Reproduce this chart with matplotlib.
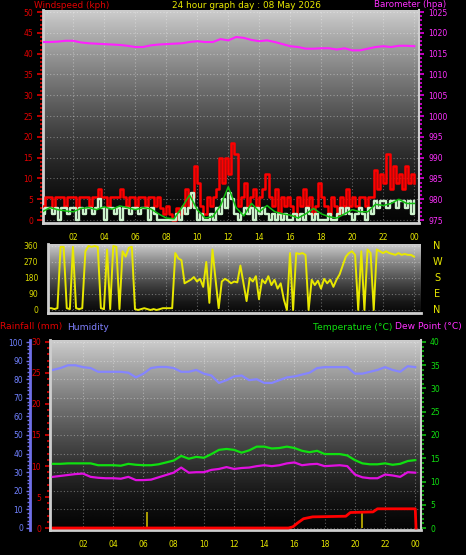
import numpy as np
import matplotlib
matplotlib.use('Agg')
from matplotlib import pyplot as plt
from matplotlib.ticker import MultipleLocator
import matplotlib.transforms as mtransforms

# hour axis
hour_ticks = [2, 4, 6, 8, 10, 12, 14, 16, 18, 20, 22, 24]
hour_labels = ['02', '04', '06', '08', '10', '12', '14', '16', '18', '20', '22', '00']

# wind gust / speed, one reading every 12 minutes (kph)
gust = [3.5,
        5.5, 5.5, 3, 5.5, 5.5, 5.5, 3.5, 5.5, 5.5, 5.5,
        3, 5.5, 5.5, 5.5, 3.5, 5.5, 5.5, 7.5, 5.5, 5.5,
        3.5, 5.5, 5.5, 5.5, 7.5, 5.5, 3.5, 5.5, 5.5, 3.5,
        5.5, 5.5, 3.5, 5.5, 5.5, 3.5, 5.5, 3, 1.5, 3.5,
        1.5, 0, 3, 1.5, 3.5, 7.5, 3.5, 5.5, 13, 9,
        3.5, 1.5, 5.5, 3.5, 5.5, 7.5, 15, 9, 15, 11,
        18.5, 16, 3.5, 5.5, 9, 3.5, 5.5, 7.5, 3.5, 5.5,
        7.5, 11, 5.5, 3.5, 7.5, 1.5, 5.5, 3.5, 5.5, 3.5,
        1.5, 5.5, 3.5, 7.5, 3.5, 5.5, 1.5, 3.5, 9, 5.5,
        3.5, 1.5, 5.5, 3.5, 1.5, 5.5, 3.5, 7.5, 3.5, 5.5,
        3.5, 5.5, 5.5, 3.5, 5.5, 5.5, 12, 7.5, 11, 9,
        16, 7.5, 13, 9, 11, 7.5, 13, 9, 11, 9]
speed = [1.5,
         3, 3, 1.5, 3, 0, 3, 3, 1.5, 3, 3,
         0, 3, 1.5, 3, 3, 1.5, 3, 5, 3, 0,
         3, 3, 1.5, 3, 0, 3, 3, 1.5, 3, 3,
         1.5, 3, 3, 0, 3, 1.5, 0, 0, 0, 0,
         0, 0, 1.5, 0, 3, 1.5, 3, 6.5, 3, 0,
         1.5, 0, 0, 1.5, 0, 3, 1.5, 5, 3, 6.5,
         5, 1.5, 0, 1.5, 3, 1.5, 3, 0, 3, 1.5,
         3, 1.5, 0, 1.5, 0, 1.5, 0, 1.5, 0, 0,
         1.5, 0, 1.5, 0, 3, 1.5, 0, 1.5, 0, 0,
         0, 1.5, 0, 0, 1.5, 3, 1.5, 3, 1.5, 0,
         1.5, 3, 1.5, 0, 3, 1.5, 4.5, 3, 4.5, 4.5,
         3, 4.5, 4.5, 3, 4.5, 4.5, 3, 4.5, 1.5, 4.5]

# half-hourly values
avg_wind = [2, 3, 2.5, 2.2, 2, 2.8, 3, 2.5, 3.2, 2.6,
            3.4, 3, 2.5, 3, 2.7, 1.5, 0.5, 0.3, 3, 6,
            2.5, 0.5, 0.8, 3.5, 8, 3, 1, 4, 2, 3.5,
            2, 1.5, 1.2, 0.5, 1.5, 2.8, 1.5, 0.8, 0.5, 1.5,
            2.5, 2, 2, 3.8, 3.5, 4, 5, 4, 4]
baro = [1017.8, 1017.8, 1017.9, 1018.1, 1018.1, 1017.7, 1017.5, 1017.4, 1017.3, 1017.2,
        1017.1, 1016.9, 1016.6, 1016.6, 1017.0, 1017.2, 1017.3, 1017.4, 1017.5, 1017.8,
        1018.0, 1017.8, 1017.8, 1018.5, 1018.2, 1019.0, 1018.8, 1018.3, 1018.0, 1018.2,
        1017.8, 1017.3, 1016.8, 1016.6, 1016.2, 1016.2, 1016.3, 1016.3, 1016.0, 1016.3,
        1015.8, 1015.8, 1016.2, 1016.6, 1016.8, 1016.6, 1016.9, 1016.9, 1016.8]
humidity = [85, 86, 87.5, 87.5, 86.5, 86, 84, 84, 84, 84,
            83.5, 81, 83, 86, 86.6, 86.6, 86, 84, 84, 85,
            83, 82, 78, 79.5, 81.5, 82, 79.5, 80, 78, 78,
            79.5, 81, 81.5, 82.5, 83.5, 86, 86.5, 86.5, 86.5, 86.5,
            83, 83, 84, 85, 86.5, 85, 84, 87, 86.5]
temperature = [13.8, 13.8, 13.9, 13.9, 13.9, 13.9, 13.5, 13.5, 13.5, 13.4,
               13.8, 13.6, 13.5, 13.5, 13.7, 14.1, 14.5, 15.5, 14.9, 15.3,
               15.1, 15.9, 16.8, 17.0, 16.8, 16.2, 16.7, 17.5, 17.5, 17.1,
               17.2, 17.5, 17.2, 16.6, 16.3, 16.6, 15.9, 15.9, 15.9, 15.6,
               14.6, 13.9, 13.7, 13.7, 13.9, 13.6, 13.8, 14.4, 14.6]
dew_point = [11.0, 11.2, 11.4, 11.6, 11.7, 11.0, 10.8, 10.7, 10.7, 10.6,
             11.0, 10.3, 10.3, 10.4, 10.9, 11.4, 11.9, 13.0, 11.9, 12.0,
             12.0, 12.5, 12.7, 13.1, 12.7, 12.9, 13.0, 13.3, 13.5, 13.3,
             13.5, 13.9, 14.1, 13.5, 13.7, 13.8, 13.3, 13.4, 13.5, 13.3,
             11.5, 10.9, 10.7, 10.7, 11.5, 11.3, 11.0, 12.0, 11.9]

# wind direction, every 12 minutes (degrees)
wind_dir = [5,
            5, 10, 10, 5, 10, 355, 355, 10, 5, 355,
            10, 5, 10, 330, 360, 355, 360, 355, 10, 5,
            340, 5, 360, 355, 5, 330, 300, 350, 355, 5,
            0, 5, 10, 5, 0, 5, 0, 5, 10, 10,
            10, 10, 320, 290, 280, 150, 160, 170, 185, 160,
            175, 130, 270, 40, 340, 170, 10, 160, 175, 165,
            150, 160, 155, 250, 150, 50, 180, 160, 190, 60,
            170, 150, 190, 140, 170, 120, 150, 60, 0, 320,
            0, 320, 315, 320, 310, 0, 170, 140, 165, 120,
            175, 150, 170, 130, 170, 200, 250, 300, 320, 330,
            310, 0, 330, 0, 340, 320, 0, 340, 330, 320,
            330, 320, 315, 310, 320, 310, 315, 310, 310, 300]

# rainfall total (mm) and rain rate bars
rain_hours = [0, 15.6, 15.9, 16.2, 16.6, 17.2, 19.4, 19.7, 21.2, 21.5, 24.0, 24.05]
rain_total = [0, 0, 0.2, 0.8, 1.5, 1.8, 1.9, 2.5, 2.6, 3.1, 3.1, 0]
rate_hours = [6.24, 20.5]
rate_values = [2.6, 2.6]

t_fine = np.linspace(0, 24, len(gust))
t_half = np.linspace(0, 24, len(baro))

W, H = 466, 555
fig = plt.figure(figsize=(W / 100, H / 100), dpi=100, facecolor='black')
plt.rcParams['font.family'] = 'DejaVu Sans'

BORDER = '#cfcfcf'
YELLOW = '#e8e800'


def panel(left, top, right, bottom, xlim, ylim, light=0.8, dark=0.02):
    """ 一个带灰色渐变背景的面板 """
    ax = fig.add_axes([left / W, 1 - bottom / H, (right - left) / W, (bottom - top) / H])
    ax.set_facecolor('black')
    shade = dark + (light - dark) * np.linspace(0, 1, 128) ** 1.4
    ax.imshow(shade.reshape(-1, 1), extent=[xlim[0], xlim[1], ylim[0], ylim[1]],
              origin='lower', aspect='auto', cmap='gray', vmin=0, vmax=1, zorder=0)
    ax.set_xlim(xlim)
    ax.set_ylim(ylim)
    for side in ['top', 'right']:
        ax.spines[side].set_visible(False)
    for side in ['left', 'bottom']:
        ax.spines[side].set_color(BORDER)
        ax.spines[side].set_linewidth(2)
    ax.grid(True, color='white', alpha=0.35, linestyle=(0, (1, 2)), linewidth=0.8)
    return ax


def hide_spines(ax, keep=None):
    for side, sp in ax.spines.items():
        sp.set_visible(side == keep)


# ---------------- wind speed / barometer ----------------
ax1 = panel(43, 10, 419, 223, (0.05, 24.3), (-0.7, 50.5))
ax1.set_xticks(hour_ticks, hour_labels)
ax1.tick_params(axis='x', length=0, pad=7, labelsize=5.5, labelcolor=YELLOW)
ax1.set_yticks(range(0, 51, 5))
ax1.yaxis.set_minor_locator(MultipleLocator(1))
ax1.tick_params(axis='y', which='both', color='#e00000', labelcolor='#e00000',
                labelsize=5.5, width=1.2, pad=3)
ax1.tick_params(axis='y', which='major', length=4)
ax1.tick_params(axis='y', which='minor', length=2.5)

ax1.step(t_fine, gust, where='post', color='#ff0000', linewidth=1.8, zorder=3)
ax1.step(t_fine, speed, where='post', color='#ccf2cc', linewidth=1.7, zorder=4)
ax1.plot(t_half, avg_wind, color='#10c010', linewidth=1.1, zorder=5)

ax1b = ax1.twinx()
ax1b.set_ylim(974.3, 1025.5)
hide_spines(ax1b, 'right')
ax1b.spines['right'].set_color(BORDER)
ax1b.spines['right'].set_linewidth(1.5)
ax1b.set_yticks(range(975, 1026, 5))
ax1b.yaxis.set_minor_locator(MultipleLocator(1))
ax1b.tick_params(axis='y', which='both', color='#e000e0', labelcolor='#ff30ff',
                 labelsize=5.5, width=1.2, pad=3)
ax1b.tick_params(axis='y', which='minor', length=2)
ax1b.plot(t_half, baro, color='#ff20ff', linewidth=1.5)

# ---------------- wind direction ----------------
ax2 = panel(48, 244, 421, 313, (0.39, 24.45), (-17, 371), light=0.8, dark=0.04)
ax2.set_xticks(hour_ticks)
ax2.tick_params(axis='x', length=0, labelbottom=False)
ax2.set_yticks([0, 90, 180, 270, 360])
ax2.tick_params(axis='y', length=0, pad=7, labelsize=5.5, labelcolor='#d8d800')
ax2.plot(t_fine, wind_dir, color='#e8e800', linewidth=1.4)
trans = mtransforms.blended_transform_factory(ax2.transAxes, ax2.transData)
for letter, deg in zip(['N', 'W', 'S', 'E', 'N'], [360, 270, 180, 90, 0]):
    ax2.text(1.043, deg, letter, transform=trans, color=YELLOW, fontsize=7,
             ha='center', va='center')

# ---------------- humidity / rain / temperature ----------------
ax3 = panel(50, 340, 421, 530, (-0.19, 24.38), (-1.1, 101.1))
ax3.set_xticks(hour_ticks, hour_labels)
ax3.tick_params(axis='x', length=0, pad=7, labelsize=5.5, labelcolor=YELLOW)
ax3.spines['left'].set_position(('axes', -0.054))
ax3.spines['left'].set_color('#7070e8')
ax3.set_yticks(range(0, 101, 10))
ax3.yaxis.set_minor_locator(MultipleLocator(2))
ax3.tick_params(axis='y', which='both', color='#7070e8', labelcolor='#7080ff',
                labelsize=5.5, width=1, pad=2)
ax3.tick_params(axis='y', which='major', length=3)
ax3.tick_params(axis='y', which='minor', length=2)
ax3.plot(t_half, humidity, color='#8585ff', linewidth=1.6)

ax3r = ax3.twinx()
ax3r.set_ylim(-0.32, 30.32)
hide_spines(ax3r, 'left')
ax3r.spines['left'].set_color(BORDER)
ax3r.spines['left'].set_linewidth(2)
ax3r.yaxis.set_ticks_position('left')
ax3r.set_yticks(range(0, 31, 5))
ax3r.yaxis.set_minor_locator(MultipleLocator(1))
ax3r.tick_params(axis='y', which='both', color='#e00000', labelcolor='#e00000',
                 labelsize=5.5, width=1.2, pad=3)
ax3r.tick_params(axis='y', which='minor', length=2)
ax3r.vlines(rate_hours, 0, rate_values, color='#b8a800', linewidth=1.3)
ax3r.plot(rain_hours, rain_total, color='#ff0000', linewidth=2)

ax3t = ax3.twinx()
ax3t.set_ylim(-0.43, 40.43)
hide_spines(ax3t, 'right')
ax3t.spines['right'].set_color(BORDER)
ax3t.spines['right'].set_linewidth(1.5)
ax3t.set_yticks(range(0, 41, 5))
ax3t.yaxis.set_minor_locator(MultipleLocator(1))
ax3t.tick_params(axis='y', which='both', color='#10c010', labelcolor='#10e010',
                 labelsize=5.5, width=1.2, pad=3)
ax3t.tick_params(axis='y', which='minor', length=2)
ax3t.plot(t_half, temperature, color='#10e010', linewidth=1.6)
ax3t.plot(t_half, dew_point, color='#e010e0', linewidth=1.6)


# ---------------- titles ----------------
def label(x, y, s, color, size=6.6):
    fig.text(x / W, 1 - y / H, s, color=color, fontsize=size, ha='left', va='center')


label(34, 5, 'Windspeed (kph)', '#e00000', 6.4)
label(172, 5, '24 hour graph day : 08 May 2026', YELLOW, 6.4)
label(374, 4.5, 'Barometer (hpa)', '#ff30ff', 6.3)
label(0, 327, 'Rainfall (mm)', '#e00000')
label(67, 327, 'Humidity', '#8080ff')
label(313, 327, 'Temperature (°C)', '#10e010')
label(395, 327, 'Dew Point (°C)', '#ff30ff')

fig.savefig('out.png', dpi=100, facecolor='black')
